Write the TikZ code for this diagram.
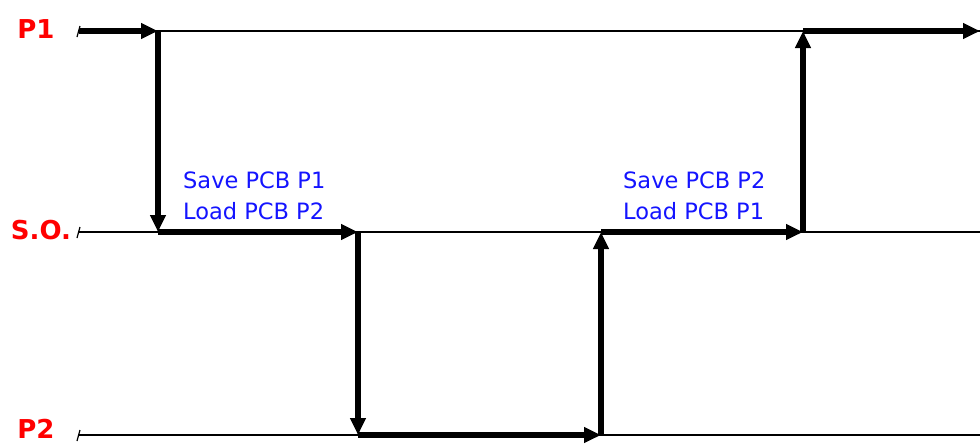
\documentclass[tikz,border=0pt]{standalone}
\usepackage{fontspec}
\setmainfont{DejaVu Sans}
\usetikzlibrary{arrows.meta}
\definecolor{lblred}{RGB}{255,0,0}
\definecolor{noteblue}{RGB}{20,20,255}
\begin{document}
\begin{tikzpicture}[x=1pt,y=-1pt,
  baseline/.style={line width=1.6pt,black},
  flow/.style={line width=5.5pt,black,-{Triangle[length=17pt,width=15pt]}},
  tickmark/.style={line width=1.2pt},
  lvl/.style={font=\bfseries\fontsize{26}{28}\selectfont,text=lblred,anchor=center,inner sep=0pt},
  note/.style={font=\fontsize{22.5}{31}\selectfont,text=noteblue,align=left,anchor=west,inner sep=0pt}]
\useasboundingbox (0,0) rectangle (980,445);
% levels
\coordinate (p1s) at (79,31);   \coordinate (p1e) at (980,31);
\coordinate (sos) at (79,232);  \coordinate (soe) at (980,232);
\coordinate (p2s) at (79,435);  \coordinate (p2e) at (980,435);
\draw[baseline] (p1s) -- (p1e);
\draw[baseline] (sos) -- (soe);
\draw[baseline] (p2s) -- (p2e);
\foreach \c in {p1s,sos,p2s}
  \draw[tickmark] ([shift={(-2,6)}]\c) -- ([shift={(1,-5)}]\c);
% labels
\node[lvl] (lp1) at (36,29) {P1};
\node[lvl] (lso) at (41,230) {S.O.};
\node[lvl] (lp2) at (36,429) {P2};
% path points
\coordinate (a) at (158,31);
\coordinate (b) at (158,232);
\coordinate (c) at (358,232);
\coordinate (d) at (358,435);
\coordinate (e) at (601,435);
\coordinate (f) at (601,232);
\coordinate (g) at (803,232);
\coordinate (h) at (803,31);
\coordinate (z) at (980,31);
\draw[flow] (p1s) -- (a);
\draw[flow] (a) -- (b);
\draw[flow] (b) -- (c);
\draw[flow] (c) -- (d);
\draw[flow] (d) -- (e);
\draw[flow] (e) -- (f);
\draw[flow] (f) -- (g);
\draw[flow] (g) -- (h);
\draw[flow] (h) -- (z);
% notes
\node[note] (n1) at (183,196) {Save PCB P1\\Load PCB P2};
\node[note] (n2) at (623,196) {Save PCB P2\\Load PCB P1};
\end{tikzpicture}
\end{document}
